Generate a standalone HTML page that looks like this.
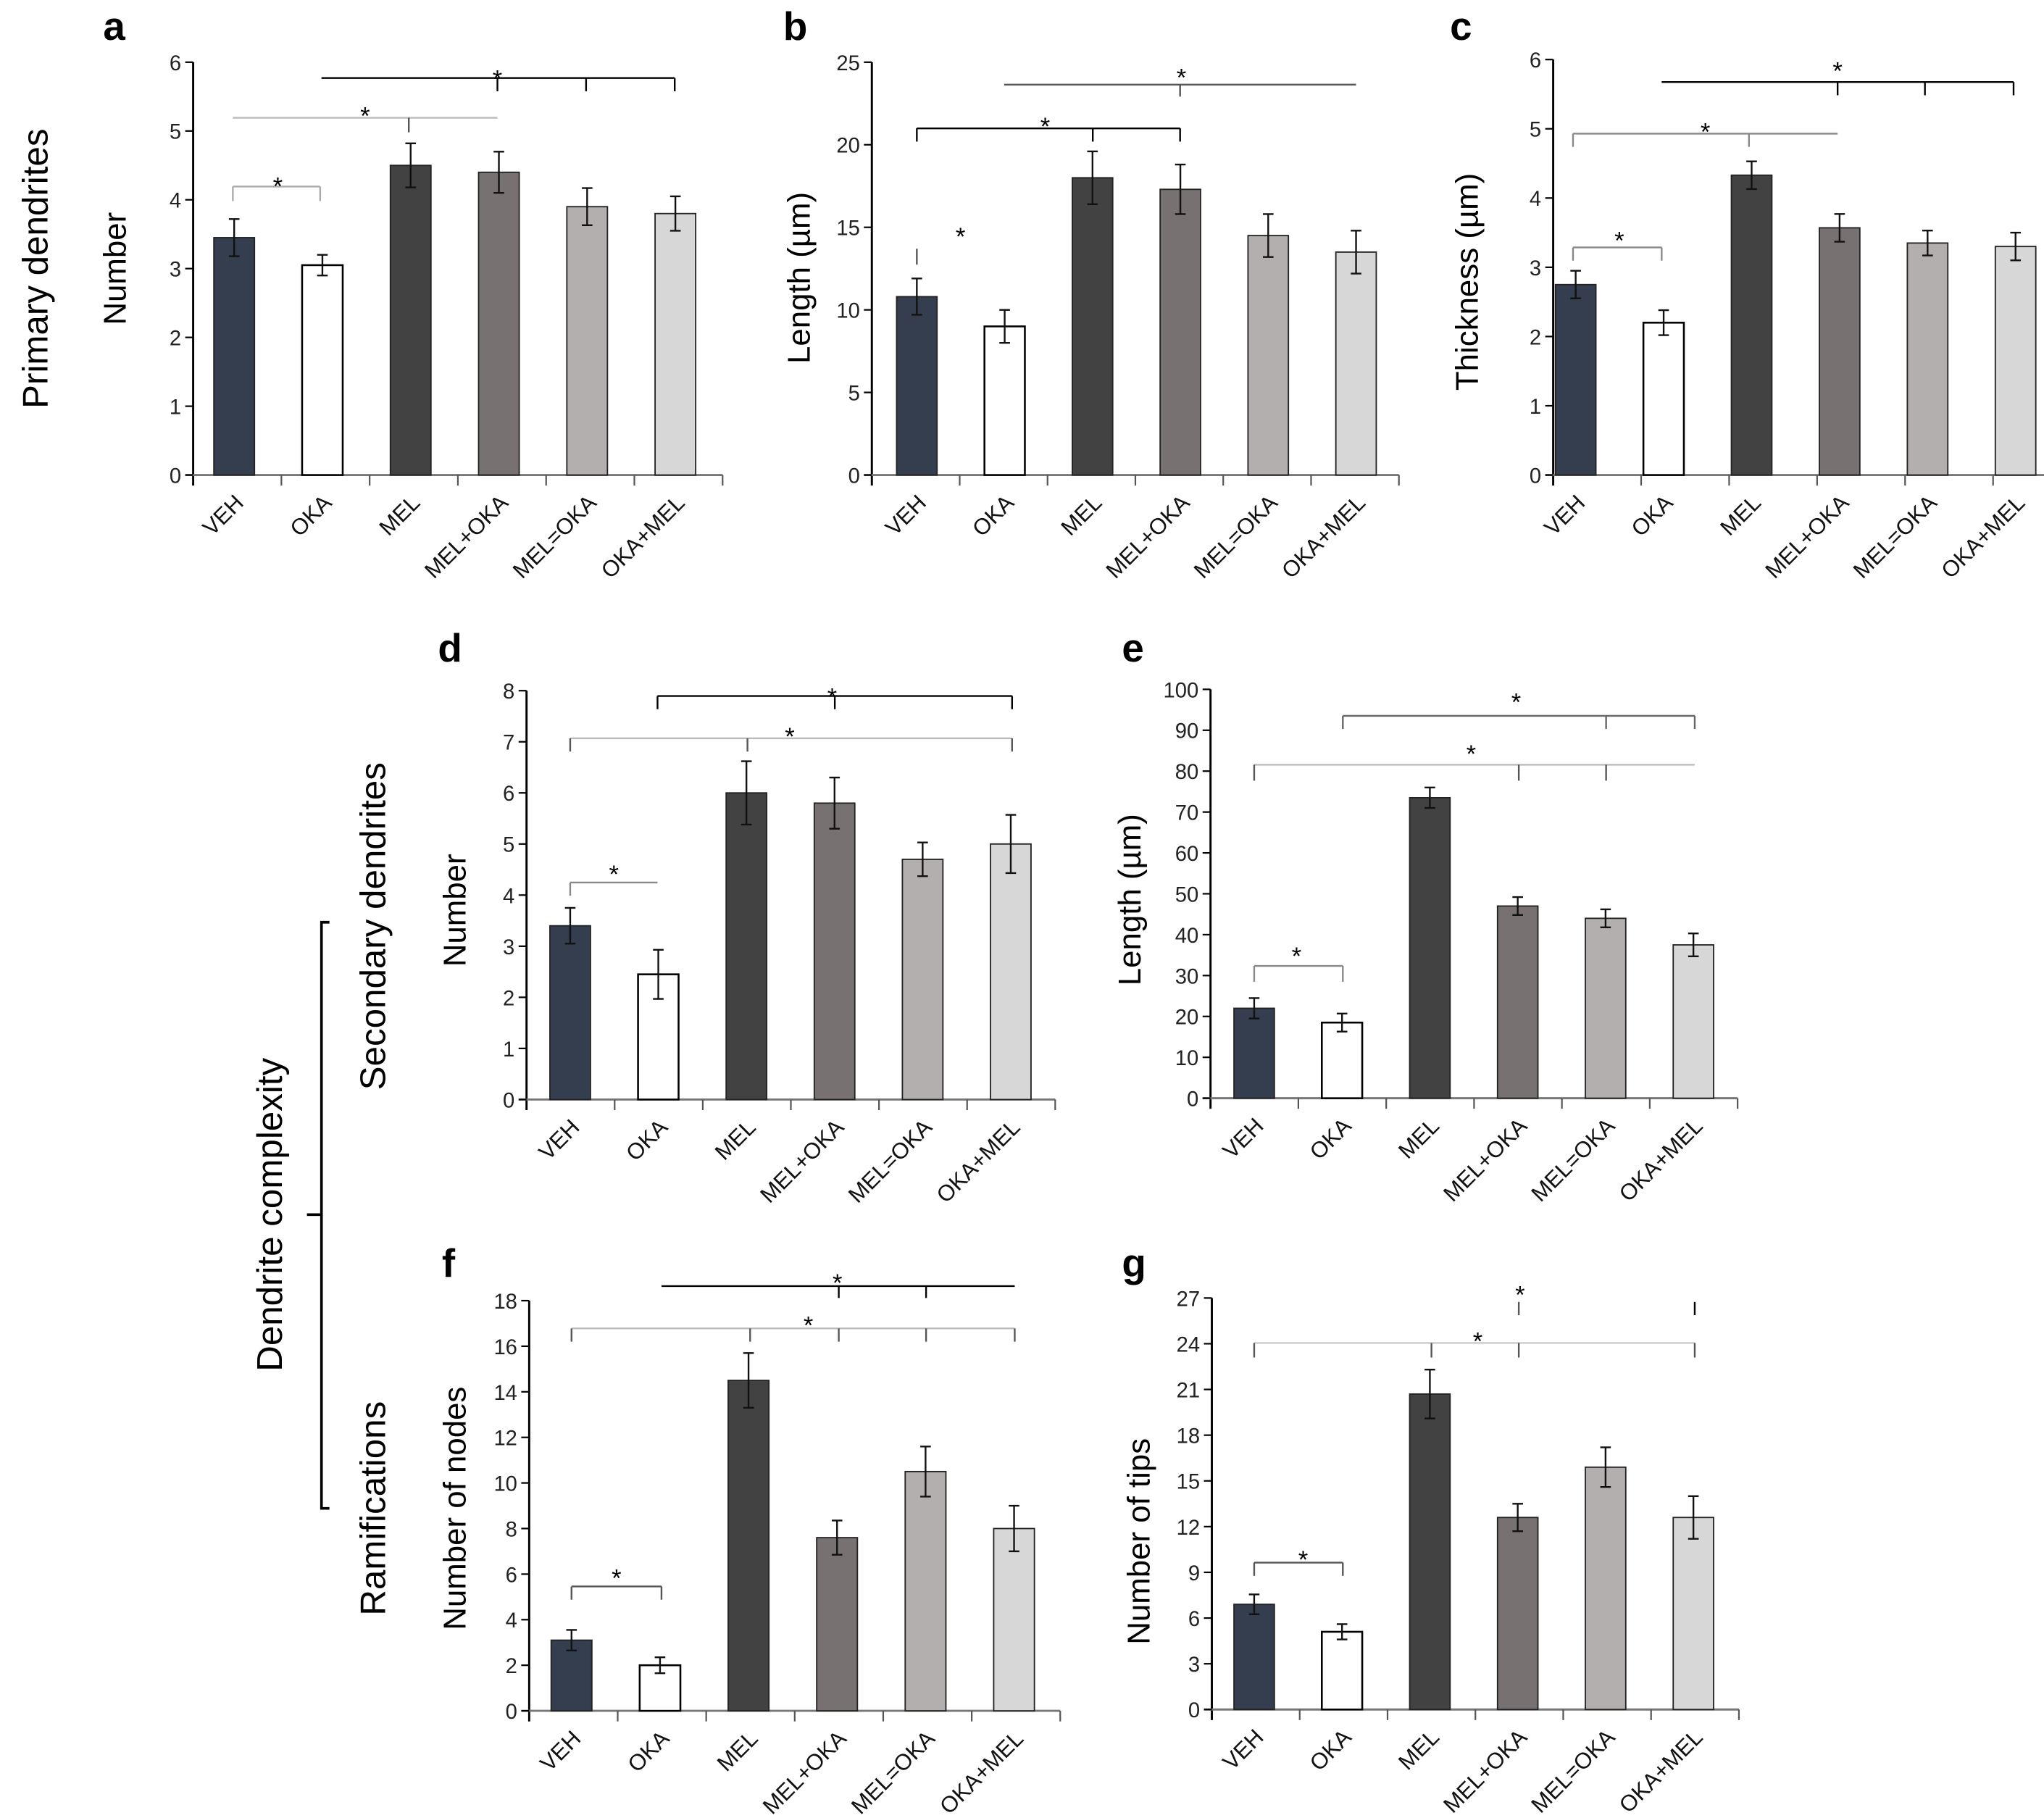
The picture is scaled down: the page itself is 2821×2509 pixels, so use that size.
<!DOCTYPE html>
<html><head><meta charset="utf-8"><style>
html,body{margin:0;padding:0;background:#fff;}
svg{display:block;}
text{font-family:"Liberation Sans",Arial,sans-serif;}
</style></head><body>
<svg id="fig" width="2821" height="2509" viewBox="0 0 1545 1374" preserveAspectRatio="none" xmlns="http://www.w3.org/2000/svg">
<g id="static">
  <text x="78" y="30" font-size="30" font-weight="bold">a</text>
  <text x="592" y="30" font-size="30" font-weight="bold">b</text>
  <text x="1096" y="30" font-size="30" font-weight="bold">c</text>
  <text x="331" y="500" font-size="30" font-weight="bold">d</text>
  <text x="848" y="500" font-size="30" font-weight="bold">e</text>
  <text x="334" y="965" font-size="30" font-weight="bold">f</text>
  <text x="848" y="965" font-size="30" font-weight="bold">g</text>
  <text transform="translate(36,203) rotate(-90)" text-anchor="middle" font-size="27">Primary dendrites</text>
  <text transform="translate(291,700) rotate(-90)" text-anchor="middle" font-size="27">Secondary dendrites</text>
  <text transform="translate(291,1140) rotate(-90)" text-anchor="middle" font-size="27">Ramifications</text>
  <text transform="translate(213,918) rotate(-90)" text-anchor="middle" font-size="27">Dendrite complexity</text>
  <path d="M249,697 H243 V1140 H249 M243,918 H232" stroke="#000" stroke-width="2" fill="none"/>
</g>
<g id="charts"></g>
</svg>
<script>
const categories = ["VEH","OKA","MEL","MEL+OKA","MEL=OKA","OKA+MEL"];
const valuesA = [3.45,3.05,4.5,4.4,3.9,3.8];
const errorsA = [0.27,0.15,0.32,0.3,0.27,0.25];
const ticksA = [0,1,2,3,4,5,6];
const valuesB = [10.8,9.0,18.0,17.3,14.5,13.5];
const errorsB = [1.1,1.0,1.6,1.5,1.3,1.3];
const ticksB = [0,5,10,15,20,25];
const valuesC = [2.75,2.2,4.33,3.57,3.35,3.3];
const errorsC = [0.2,0.18,0.2,0.2,0.18,0.2];
const ticksC = [0,1,2,3,4,5,6];
const valuesD = [3.4,2.45,6.0,5.8,4.7,5.0];
const errorsD = [0.35,0.48,0.62,0.5,0.33,0.57];
const ticksD = [0,1,2,3,4,5,6,7,8];
const valuesE = [22,18.5,73.5,47,44,37.5];
const errorsE = [2.5,2.2,2.5,2.2,2.2,2.8];
const ticksE = [0,10,20,30,40,50,60,70,80,90,100];
const valuesF = [3.1,2.0,14.5,7.6,10.5,8.0];
const errorsF = [0.45,0.35,1.2,0.75,1.1,1.0];
const ticksF = [0,2,4,6,8,10,12,14,16,18];
const valuesG = [6.9,5.1,20.7,12.6,15.9,12.6];
const errorsG = [0.65,0.5,1.6,0.9,1.3,1.4];
const ticksG = [0,3,6,9,12,15,18,21,24,27];

const colors = ["#343e4f","#ffffff","#424242","#777171","#b3afae","#d8d7d7"];
const NS="http://www.w3.org/2000/svg";
const root=document.getElementById('charts');
function mk(tag,attrs,parent){const e=document.createElementNS(NS,tag);for(const k in attrs)e.setAttribute(k,attrs[k]);(parent||root).appendChild(e);return e;}

const panels = [
 {id:"a",vals:valuesA,errs:errorsA,ticks:ticksA,ax:146,y0:359,yt:47,step:66.7,off:31,title:"Number",tx:95,ty:203},
 {id:"b",vals:valuesB,errs:errorsB,ticks:ticksB,ax:659,y0:359,yt:47,step:66.4,off:34,title:"Length (µm)",tx:612,ty:210},
 {id:"c",vals:valuesC,errs:errorsC,ticks:ticksC,ax:1174,y0:359,yt:45,step:66.5,off:17,title:"Thickness (µm)",tx:1117,ty:213},
 {id:"d",vals:valuesD,errs:errorsD,ticks:ticksD,ax:398,y0:831,yt:522,step:66.6,off:33,title:"Number",tx:352,ty:688},
 {id:"e",vals:valuesE,errs:errorsE,ticks:ticksE,ax:915,y0:830,yt:521,step:66.4,off:33,title:"Length (µm)",tx:862,ty:680},
 {id:"f",vals:valuesF,errs:errorsF,ticks:ticksF,ax:400,y0:1293,yt:983,step:66.9,off:32,title:"Number of nodes",tx:352,ty:1140},
 {id:"g",vals:valuesG,errs:errorsG,ticks:ticksG,ax:916,y0:1292,yt:981,step:66.4,off:32,title:"Number of tips",tx:869,ty:1165}
];

panels.forEach(p=>{
  const g=mk('g',{});
  
  
  const vmax=p.ticks[p.ticks.length-1];
  const y=v=>p.y0-(v/vmax)*(p.y0-p.yt);
  const cx=i=>p.ax+p.off+p.step*i;
  const bw=p.step*0.46;
  const ya=mk('line',{x1:p.ax,y1:p.yt,x2:p.ax,y2:p.y0+8,stroke:"#000","stroke-width":1.6},g);
  
  
  const xa=mk('line',{x1:p.ax-6,y1:p.y0,x2:p.ax+p.step*6,y2:p.y0,stroke:"#777","stroke-width":1.6},g);
  
  
  for(let i=1;i<=6;i++){
    mk('line',{x1:p.ax+p.step*i,y1:p.y0,x2:p.ax+p.step*i,y2:p.y0+8,stroke:"#555","stroke-width":1.2},g);
  }
  p.ticks.forEach(t=>{
    mk('line',{x1:p.ax-6,y1:y(t),x2:p.ax,y2:y(t),stroke:"#000","stroke-width":1.2},g);
    const tl=mk('text',{x:p.ax-9,y:y(t)+6,"text-anchor":"end","font-size":16,fill:"#222"},g);
    tl.textContent=t;
    
    
  });
  const at=mk('text',{transform:`translate(${p.tx},${p.ty}) rotate(-90)`,"text-anchor":"middle","font-size":24},g);
  at.textContent=p.title;
  
  
  p.vals.forEach((v,i)=>{
    const r=mk('rect',{x:cx(i)-bw/2,y:y(v),width:bw,height:p.y0-y(v),fill:colors[i],stroke:i==1?"#000":"#222","stroke-width":i==1?1.4:1},g);
    
    
    const e=p.errs[i];
    const eb=mk('path',{d:`M${cx(i)},${y(v+e)} V${y(v-e)} M${cx(i)-4},${y(v+e)} H${cx(i)+4} M${cx(i)-4},${y(v-e)} H${cx(i)+4}`,stroke:"#111","stroke-width":1.3,fill:"none"},g);
    
    
    const xl=mk('text',{transform:`translate(${cx(i)+8},${p.y0+22}) rotate(-45)`,"text-anchor":"end","font-size":17,fill:"#111"},g);
    xl.textContent=categories[i];
    
    
  });
});

const brackets = [
 [89,176,376,[309],11,"#bbb",276,84],[59,243,510,[376,443,510],10,"#000",376,56],[141,176,242,[176,242],11,"#aaa",210,137],
 [97,693,892,[693,826,892],10,"#000",790,92],[64,759,1025,[892],9,"#555",893,55],
 [101,1189,1389,[1189,1322],10,"#888",1289,96],[62,1256,1522,[1389,1455,1522],10,"#000",1389,50],[187,1189,1256,[1189,1256],10,"#888",1224,178],
 [526,497,765,[497,631,765],10,"#000",629,523],[558,431,765,[431,565,765],10,"#bbb",597,553],[667,431,497,[431],10,"#888",464,657],
 [541,1015,1281,[1015,1214,1281],10,"#666",1146,527],[578,948,1281,[948,1148,1214],12,"#bbb",1112,566],[730,948,1015,[948,1015],12,"#888",980,719],
 [972,500,767,[634,700],9,"#000",633,966],[1004,432,767,[432,567,634,700,767],10,"#bbb",611,998],[1199,432,500,[432,500],10,"#555",466,1189],
 [1015,948,1281,[948,1082,1148,1281],11,"#ccc",1117,1010],[1181,948,1015,[948,1015],10,"#555",985,1175]
];
brackets.forEach(b=>{
  const bg=mk('g',{});
  
  
  mk('line',{x1:b[1],y1:b[0],x2:b[2],y2:b[0],stroke:b[5],"stroke-width":1.3},bg);
  b[3].forEach(x=>mk('line',{x1:x,y1:b[0],x2:x,y2:b[0]+b[4],stroke:b[5]=="#ccc"||b[5]=="#bbb"?"#555":b[5],"stroke-width":1.3},bg));
  const s=mk('text',{x:b[6],y:b[7]+10,"text-anchor":"middle","font-size":19},bg);
  s.textContent="*";
});
const ex=mk('g',{});


mk('line',{x1:693,y1:188,x2:693,y2:200,stroke:"#555","stroke-width":1.3},ex);
const s1=mk('text',{x:726,y:185,"text-anchor":"middle","font-size":19},ex);s1.textContent="*";
mk('line',{x1:1148,y1:984,x2:1148,y2:994,stroke:"#555","stroke-width":1.3},ex);
mk('line',{x1:1281,y1:984,x2:1281,y2:994,stroke:"#000","stroke-width":1.3},ex);
const s2=mk('text',{x:1149,y:985,"text-anchor":"middle","font-size":19},ex);s2.textContent="*";
</script>
</body></html>
